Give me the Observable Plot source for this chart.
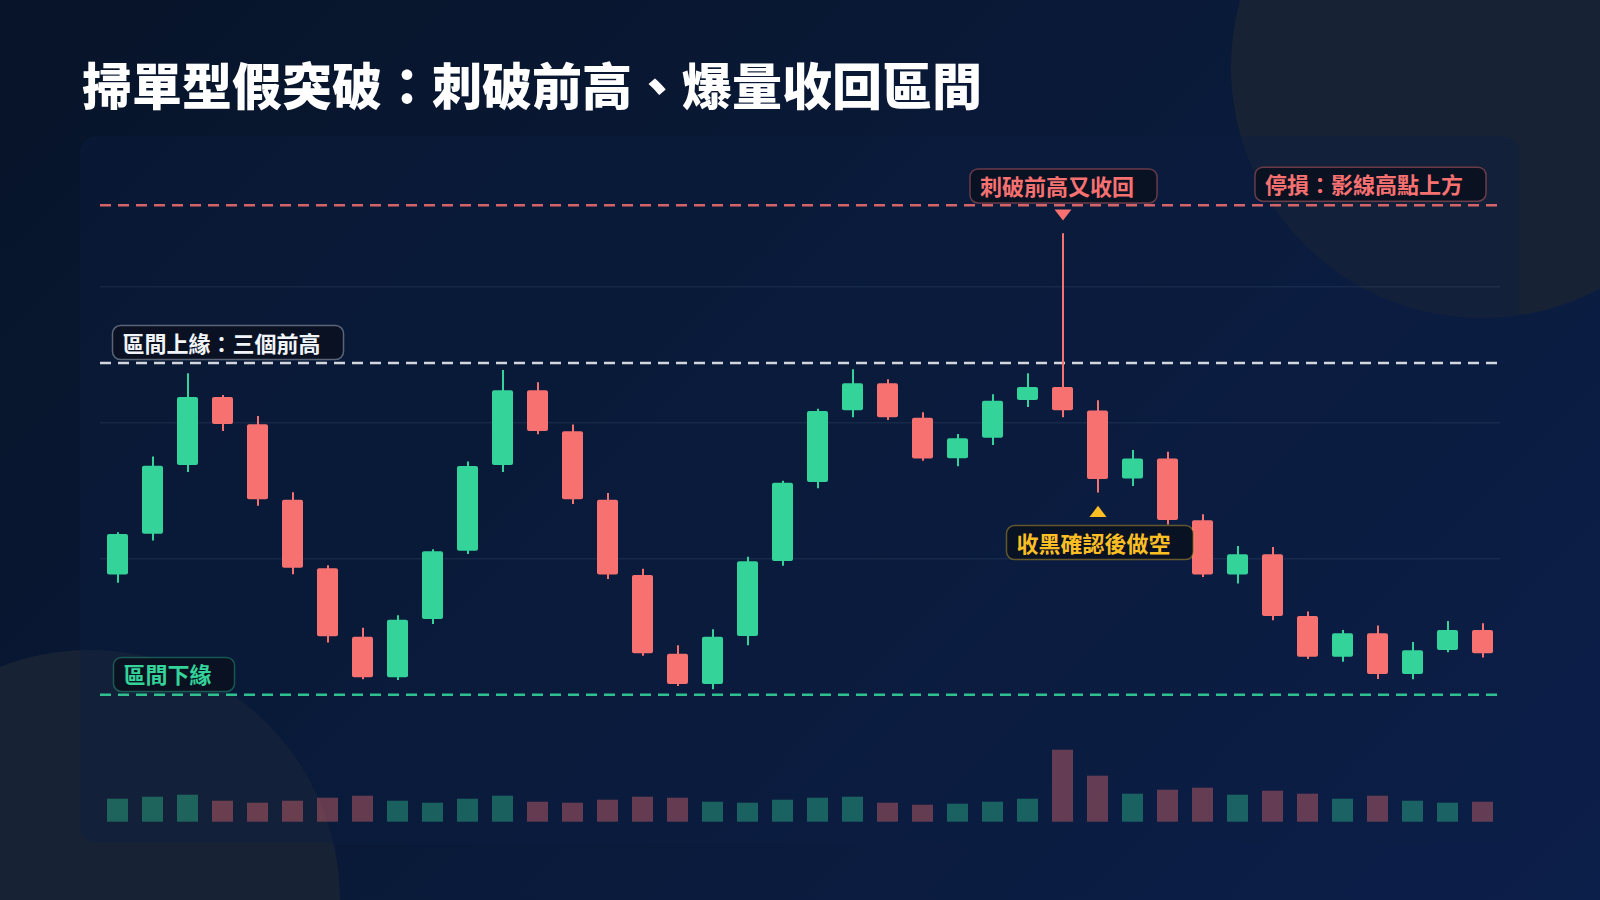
<!DOCTYPE html>
<html>
<head>
<meta charset="utf-8">
<script src="https://cdn.jsdelivr.net/npm/d3@7"></script>
<script src="https://cdn.jsdelivr.net/npm/@observablehq/plot@0.6"></script>
<style>
  html, body { margin: 0; padding: 0; }
  body {
    width: 1600px; height: 900px; overflow: hidden; position: relative;
    background: linear-gradient(135deg, #071429 0%, #0a1a3a 55%, #0c1f4a 100%);
    font-family: "Noto Sans CJK TC", "Noto Sans CJK SC", sans-serif;
  }
  .circle { position: absolute; border-radius: 50%; background: #182235; }
  #c1 { left: 1231px; top: -184px; width: 502px; height: 502px; }
  #c2 { left: -160px; top: 650px; width: 500px; height: 500px; }
  #card {
    position: absolute; left: 80px; top: 136px; width: 1439px; height: 707px;
    border-radius: 16px; background: rgba(10, 31, 66, 0.36);
  }
  #title {
    position: absolute; left: 82px; top: 58px; margin: 0;
    font-size: 50px; font-weight: 900; color: #ffffff; line-height: 1; white-space: nowrap;
  }
  #price { position: absolute; left: 0; top: 140px; }
  #volume { position: absolute; left: 0; top: 720px; }
</style>
</head>
<body>
<div class="circle" id="c1"></div>
<div class="circle" id="c2"></div>
<div id="card"></div>
<h1 id="title">掃單型假突破：刺破前高、爆量收回區間</h1>
<div id="price"></div>
<div id="volume"></div>
<script>
// ---- data ----
const opens  = [108.80,111.81,116.86,121.86,119.85,114.31,109.26,104.24,101.25,105.54,
                110.56,116.86,122.35,119.34,114.31,108.77,102.99,100.76,104.29,109.80,
                115.61,120.88,122.87,120.34,117.35,118.87,121.64,122.60,120.86,115.86,
                117.33,112.79,108.80,110.29,105.76,102.77,104.49,101.50,103.26,104.73];
const highs  = [111.91,117.48,123.60,122.01,120.47,114.85,109.49,104.90,105.81,110.66,
                117.11,123.85,122.94,119.83,114.80,109.24,103.60,104.78,110.12,115.71,
                121.00,123.90,123.16,120.74,119.14,122.06,123.60,133.90,121.62,117.97,
                117.84,113.24,110.91,110.83,106.08,104.73,105.05,103.85,105.39,105.22];
const lows   = [108.21,111.30,116.35,119.36,113.87,108.82,103.80,101.10,101.05,105.17,
                110.32,116.35,119.12,114.00,108.48,102.84,100.61,100.37,103.60,109.46,
                115.15,120.37,120.17,117.18,116.76,118.33,121.13,120.37,114.83,115.32,
                112.48,108.63,108.14,105.44,102.60,102.40,101.13,101.10,103.09,102.70];
const closes = [111.79,116.81,121.86,119.88,114.34,109.31,104.26,101.25,105.49,110.51,
                116.79,122.35,119.36,114.34,108.80,103.01,100.76,104.24,109.78,115.56,
                120.83,122.87,120.37,117.33,118.82,121.59,122.60,120.88,115.83,117.33,
                112.82,108.80,110.29,105.76,102.77,104.49,101.50,103.24,104.73,103.01];
const volumes = [23,25,27,21,19,21,24,26,21,19,23,26,20,19,22,25,24,20,19,22,
                 24,25,19,17,18,20,23,72,46,28,32,34,27,31,28,23,26,21,19,20];

const levelStop = 136;     // 停損
const levelUpper = 124.4;  // 區間上緣
const levelLower = 100;    // 區間下緣
const gridLevels = [110, 120, 130];

const sweepIndex = 27, sweepMarkPrice = 135.28;
const entryIndex = 28, entryMarkPrice = 113.48;

const labelTexts  = ["區間上緣：三個前高", "區間下緣", "刺破前高又收回", "停損：影線高點上方", "收黑確認後做空"];
const labelIndex  = [0, 0, 27, 39, 28];
const labelPrice  = [125.76, 101.35, 137.27, 137.40, 111.05];

// ---- build ----
const idx = d3.range(opens.length);
const candles = idx.map(i => ({
  i, open: opens[i], high: highs[i], low: lows[i], close: closes[i],
  volume: volumes[i], up: closes[i] >= opens[i]
}));
const GREEN = "#34d399", RED = "#f87171", AMBER = "#fbbf24";
const FONT = '"Noto Sans CJK TC", "Noto Sans CJK SC", sans-serif';
const xScale = { type: "band", domain: idx, range: [100, 1500], paddingInner: 0.4, paddingOuter: 0.2, axis: null };

const triDown = { draw(ctx, size) { const s = Math.sqrt(size);
  ctx.moveTo(-0.5 * s, -0.32 * s); ctx.lineTo(0.5 * s, -0.32 * s); ctx.lineTo(0, 0.33 * s); ctx.closePath(); } };
const triUp = { draw(ctx, size) { const s = Math.sqrt(size);
  ctx.moveTo(-0.5 * s, 0.32 * s); ctx.lineTo(0.5 * s, 0.32 * s); ctx.lineTo(0, -0.33 * s); ctx.closePath(); } };

const lab = k => [{ i: labelIndex[k], y: labelPrice[k], t: labelTexts[k] }];
const textOpts = { x: "i", y: "y", text: "t", fontSize: 22, fontWeight: 700, fontFamily: FONT };

const price = Plot.plot({
  width: 1600, height: 580,
  marginLeft: 100, marginRight: 100, marginTop: 0, marginBottom: 0,
  style: { background: "transparent", fontFamily: FONT, overflow: "visible" },
  x: xScale,
  y: { domain: [100, 140], range: [554.3, 10.3], axis: null },
  color: { type: "identity" },
  marks: [
    Plot.ruleY(gridLevels, { stroke: "#94a3b8", strokeOpacity: 0.1, strokeWidth: 1.5 }),
    Plot.ruleY([levelStop], { stroke: RED, strokeOpacity: 0.85, strokeWidth: 2.4, strokeDasharray: "11,7" }),
    Plot.ruleY([levelUpper], { stroke: "#e5e7eb", strokeOpacity: 0.92, strokeWidth: 2.4, strokeDasharray: "11,7" }),
    Plot.ruleY([levelLower], { stroke: GREEN, strokeOpacity: 0.9, strokeWidth: 2.4, strokeDasharray: "11,7" }),
    Plot.ruleX(candles, { x: "i", y1: "low", y2: "high", stroke: d => d.up ? GREEN : RED, strokeWidth: 2 }),
    Plot.barY(candles, { x: "i", y1: "open", y2: "close", fill: d => d.up ? GREEN : RED, rx: 2 }),
    Plot.dot([{ i: sweepIndex, y: sweepMarkPrice }], { x: "i", y: "y", symbol: triDown, r: 9.6, fill: RED, stroke: null }),
    Plot.dot([{ i: entryIndex, y: entryMarkPrice }], { x: "i", y: "y", symbol: triUp, r: 9.6, fill: AMBER, stroke: null }),
    Plot.text(lab(0), { ...textOpts, textAnchor: "start", dx: 4.5, fill: "#f1f5f9" }),
    Plot.text(lab(1), { ...textOpts, textAnchor: "start", dx: 5.5, fill: GREEN }),
    Plot.text(lab(2), { ...textOpts, textAnchor: "start", dx: -83, fill: RED }),
    Plot.text(lab(3), { ...textOpts, textAnchor: "end", dx: -20, fill: RED }),
    Plot.text(lab(4), { ...textOpts, textAnchor: "start", dx: -81.5, fill: AMBER })
  ]
});
document.getElementById("price").appendChild(price);

const volume = Plot.plot({
  width: 1600, height: 120,
  marginLeft: 100, marginRight: 100, marginTop: 0, marginBottom: 0,
  style: { background: "transparent", overflow: "visible" },
  x: xScale,
  y: { domain: [0, 100], range: [101.7, 1.7], axis: null },
  color: { type: "identity" },
  marks: [
    Plot.barY(candles, { x: "i", y: "volume", fill: d => d.up ? GREEN : RED, fillOpacity: 0.38 })
  ]
});
document.getElementById("volume").appendChild(volume);

// label boxes behind the annotation texts
const boxStrokes = ["rgba(203,213,225,0.42)", "rgba(52,211,153,0.35)", "rgba(248,113,113,0.4)",
                    "rgba(248,113,113,0.4)", "rgba(251,191,36,0.38)"];
price.querySelectorAll("text").forEach(t => {
  const k = labelTexts.indexOf(t.textContent.trim());
  if (k < 0) return;
  const b = t.getBBox();
  const r = document.createElementNS("http://www.w3.org/2000/svg", "rect");
  r.setAttribute("x", b.x - 10);
  r.setAttribute("y", b.y + b.height / 2 - 16);
  r.setAttribute("width", b.width + 33);
  r.setAttribute("height", 34);
  r.setAttribute("rx", 8);
  r.setAttribute("fill", "rgba(9,16,30,0.85)");
  r.setAttribute("stroke", boxStrokes[k]);
  r.setAttribute("stroke-width", 1.5);
  const tr = t.getAttribute("transform");
  if (tr) r.setAttribute("transform", tr);
  t.parentNode.insertBefore(r, t);
});
</script>
</body>
</html>
